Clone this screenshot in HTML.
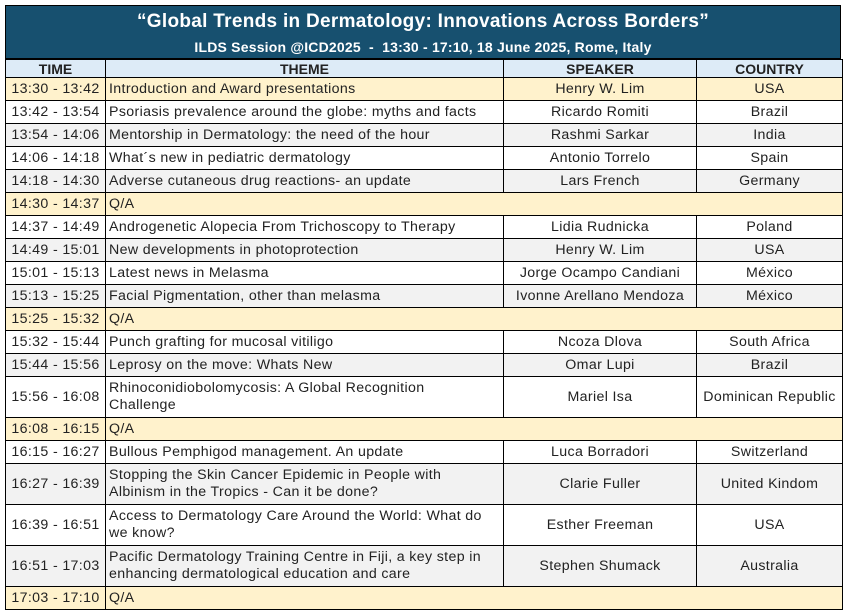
<!DOCTYPE html>
<html><head><meta charset="utf-8"><style>
body{margin:0;width:846px;height:614px;background:#fff;font-family:"Liberation Sans",sans-serif;color:#222;position:relative;overflow:hidden}
#hdr{position:absolute;left:5px;top:5px;width:836px;height:54px;background:#17506f;color:#fff;border:1px solid #000;box-sizing:border-box;text-align:center;font-weight:bold}
#hdr .t{font-size:19px;margin-top:5px;letter-spacing:0.3px}
#hdr .s{font-size:14px;margin-top:6px;letter-spacing:0.2px}
table{position:absolute;left:5px;top:59px;border-collapse:collapse;table-layout:fixed;width:837px}
td{border:1px solid #000;font-size:14.2px;letter-spacing:0.35px;padding:0 3px;line-height:17px;overflow:hidden;white-space:nowrap}
td.w{white-space:normal}
td.c{text-align:center}
th{border:1px solid #000;background:#ddebf7;font-size:14px;height:17px;padding:0;line-height:16px}
tr.y td{background:#fff2cc}
tr.g td{background:#f2f2f2}
</style></head><body>
<div id="hdr">
<div class="t">“Global Trends in Dermatology: Innovations Across Borders”</div>
<div class="s">ILDS Session @ICD2025&nbsp; - &nbsp;13:30 - 17:10, 18 June 2025, Rome, Italy</div>
</div>
<table>
<colgroup><col style="width:100px"><col style="width:398px"><col style="width:193px"><col style="width:146px"></colgroup>
<tr><th>TIME</th><th>THEME</th><th>SPEAKER</th><th>COUNTRY</th></tr>
<tr class="y" style="height:23px"><td class="c">13:30 - 13:42</td><td>Introduction and Award presentations</td><td class="c">Henry W. Lim</td><td class="c">USA</td></tr>
<tr style="height:23px"><td class="c">13:42 - 13:54</td><td>Psoriasis prevalence around the globe: myths and facts</td><td class="c">Ricardo Romiti</td><td class="c">Brazil</td></tr>
<tr class="g" style="height:23px"><td class="c">13:54 - 14:06</td><td>Mentorship in Dermatology: the need of the hour</td><td class="c">Rashmi Sarkar</td><td class="c">India</td></tr>
<tr style="height:23px"><td class="c">14:06 - 14:18</td><td>What´s new in pediatric dermatology</td><td class="c">Antonio Torrelo</td><td class="c">Spain</td></tr>
<tr class="g" style="height:23px"><td class="c">14:18 - 14:30</td><td>Adverse cutaneous drug reactions- an update</td><td class="c">Lars French</td><td class="c">Germany</td></tr>
<tr class="y" style="height:23px"><td class="c">14:30 - 14:37</td><td colspan="3">Q/A</td></tr>
<tr style="height:23px"><td class="c">14:37 - 14:49</td><td>Androgenetic Alopecia From Trichoscopy to Therapy</td><td class="c">Lidia Rudnicka</td><td class="c">Poland</td></tr>
<tr class="g" style="height:23px"><td class="c">14:49 - 15:01</td><td>New developments in photoprotection</td><td class="c">Henry W. Lim</td><td class="c">USA</td></tr>
<tr style="height:23px"><td class="c">15:01 - 15:13</td><td>Latest news in Melasma</td><td class="c">Jorge Ocampo Candiani</td><td class="c">México</td></tr>
<tr class="g" style="height:23px"><td class="c">15:13 - 15:25</td><td>Facial Pigmentation, other than melasma</td><td class="c">Ivonne Arellano Mendoza</td><td class="c">México</td></tr>
<tr class="y" style="height:23px"><td class="c">15:25 - 15:32</td><td colspan="3">Q/A</td></tr>
<tr style="height:23px"><td class="c">15:32 - 15:44</td><td>Punch grafting for mucosal vitiligo</td><td class="c">Ncoza Dlova</td><td class="c">South Africa</td></tr>
<tr class="g" style="height:23px"><td class="c">15:44 - 15:56</td><td>Leprosy on the move: Whats New</td><td class="c">Omar Lupi</td><td class="c">Brazil</td></tr>
<tr style="height:41px"><td class="c">15:56 - 16:08</td><td class="w">Rhinoconidiobolomycosis: A Global Recognition<br>Challenge</td><td class="c">Mariel Isa</td><td class="c" style="padding:0">Dominican Republic</td></tr>
<tr class="y" style="height:23px"><td class="c">16:08 - 16:15</td><td colspan="3">Q/A</td></tr>
<tr style="height:23px"><td class="c">16:15 - 16:27</td><td>Bullous Pemphigod management. An update</td><td class="c">Luca Borradori</td><td class="c">Switzerland</td></tr>
<tr class="g" style="height:41px"><td class="c">16:27 - 16:39</td><td class="w">Stopping the Skin Cancer Epidemic in People with Albinism in the Tropics - Can it be done?</td><td class="c">Clarie Fuller</td><td class="c">United Kindom</td></tr>
<tr style="height:41px"><td class="c">16:39 - 16:51</td><td class="w">Access to Dermatology Care Around the World: What do we know?</td><td class="c">Esther Freeman</td><td class="c">USA</td></tr>
<tr class="g" style="height:41px"><td class="c">16:51 - 17:03</td><td class="w">Pacific Dermatology Training Centre in Fiji, a key step in enhancing dermatological education and care</td><td class="c">Stephen Shumack</td><td class="c">Australia</td></tr>
<tr class="y" style="height:23px"><td class="c">17:03 - 17:10</td><td colspan="3">Q/A</td></tr>
</table>
</body></html>
